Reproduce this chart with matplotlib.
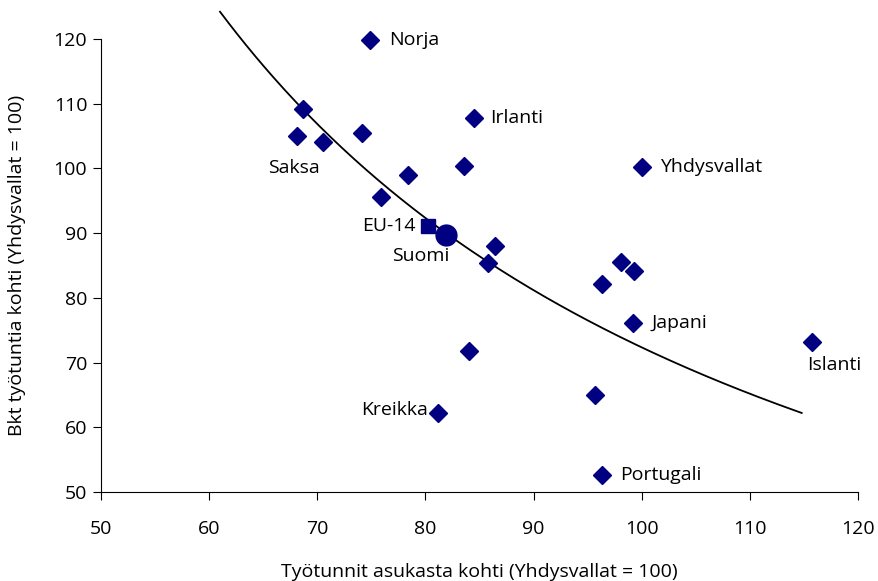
import numpy as np
import matplotlib
matplotlib.use("Agg")
import matplotlib.pyplot as plt

plt.rcParams['font.family'] = ['Open Sans', 'DejaVu Sans']

# maat: työtunnit asukasta kohti (x), bkt työtuntia kohti (y)
maat = ["Norja", "", "Saksa", "", "", "Irlanti", "", "Yhdysvallat", "", "",
        "", "", "", "", "", "Japani", "Islanti", "", "", "Kreikka", "Portugali"]
x_maat = [74.9, 68.7, 68.1, 70.5, 74.1, 84.5, 83.6, 100.0, 78.4, 75.9,
          86.4, 85.8, 98.1, 99.3, 96.3, 99.2, 115.8, 84.0, 95.7, 81.2, 96.3]
y_maat = [119.8, 109.2, 105.0, 104.1, 105.5, 107.8, 100.4, 100.2, 99.0, 95.6,
          88.0, 85.4, 85.6, 84.2, 82.2, 76.1, 73.2, 71.8, 65.0, 62.2, 52.6]

eu14_x, eu14_y = [80.2], [91.1]
suomi_x, suomi_y = [81.9], [89.7]

# potenssitrendi y = a * x^b
trendi_a = 124.2 * 61.0 ** 1.093
trendi_b = -1.093
trendi_alku, trendi_loppu = 61.0, 114.8

# tekstien siirtymät pikseleinä
siirrot = {
    "Norja": (19, 0, "left"), "Irlanti": (16, 0, "left"),
    "Yhdysvallat": (18, 0, "left"), "Saksa": (-3, -32, "center"),
    "Japani": (18, 0, "left"), "Islanti": (22, -23, "center"),
    "Kreikka": (-10, 3, "right"), "Portugali": (18, 0, "left"),
}

vari = "#000080"
fs = 14

fig = plt.figure(figsize=(8.79, 5.81), dpi=100)
ax = fig.add_axes([0.115, 0.153, 0.861, 0.780])

xs = np.linspace(trendi_alku, trendi_loppu, 200)
ax.plot(xs, trendi_a * xs ** trendi_b, color="black", lw=1.3, clip_on=False, zorder=2)

ax.plot(x_maat, y_maat, "D", color=vari, ms=9, mec=vari, zorder=3, clip_on=False)
ax.plot(eu14_x, eu14_y, "s", color=vari, ms=10, zorder=3)
ax.plot(suomi_x, suomi_y, "o", color=vari, ms=15, zorder=4)

for nimi, xv, yv in zip(maat, x_maat, y_maat):
    if nimi:
        dx, dy, ha = siirrot[nimi]
        ax.annotate(nimi, (xv, yv), xytext=(dx, dy), textcoords="offset pixels",
                    ha=ha, va="center", fontsize=fs)

ax.annotate("EU-14", (eu14_x[0], eu14_y[0]), xytext=(-12, 0), textcoords="offset pixels",
            ha="right", va="center", fontsize=fs)
ax.annotate("Suomi", (suomi_x[0], suomi_y[0]), xytext=(-25, -21), textcoords="offset pixels",
            ha="center", va="center", fontsize=fs)

ax.set_xlim(50, 120)
ax.set_ylim(50, 120)
ax.set_xticks(np.arange(50, 121, 10))
ax.set_yticks(np.arange(50, 121, 10))
ax.spines["top"].set_visible(False)
ax.spines["right"].set_visible(False)
ax.tick_params(direction="out", length=6, labelsize=fs, pad=14)
ax.tick_params(axis="y", pad=4)
ax.set_xlabel("Työtunnit asukasta kohti (Yhdysvallat = 100)", fontsize=fs, labelpad=18)
ax.set_ylabel("Bkt työtuntia kohti (Yhdysvallat = 100)", fontsize=fs, labelpad=20)

fig.savefig("out.png", dpi=100)
